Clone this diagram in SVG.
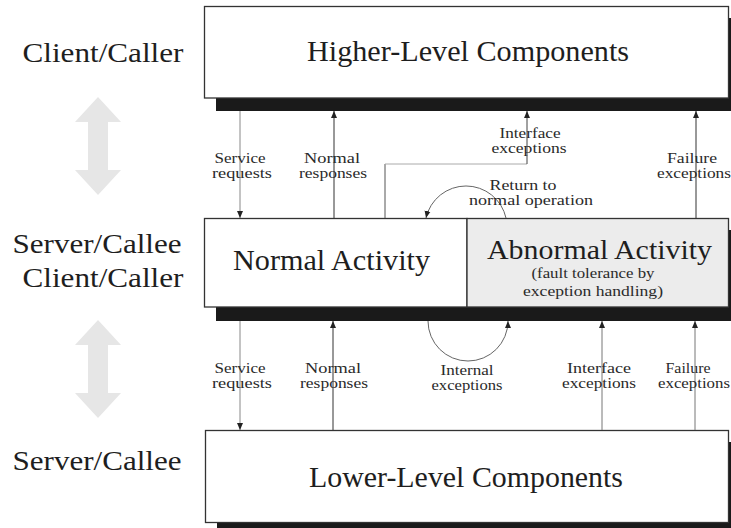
<svg xmlns="http://www.w3.org/2000/svg" width="731" height="528" viewBox="0 0 731 528">
<defs>
<style>
.box{fill:#fff;stroke:#333;stroke-width:1.3}
.abn{fill:#ececec;stroke:#333;stroke-width:1.3}
.shadow{fill:#1a1a1a}
.big{font-family:"Liberation Serif","Times New Roman",serif;font-size:30px;fill:#1e1e1e}
.side{font-family:"Liberation Serif","Times New Roman",serif;font-size:27px;fill:#1e1e1e}
.small{font-family:"Liberation Serif","Times New Roman",serif;font-size:14px;fill:#2a2a2a}
.line{fill:none;stroke:#333;stroke-width:1}
.light{stroke:#888}
.garrow{fill:#e6e6e6}
</style>
<marker id="ah" markerWidth="8" markerHeight="8" refX="7" refY="4" orient="auto" markerUnits="userSpaceOnUse">
<path d="M0,1 L7,4 L0,7 Z" fill="#222"/>
</marker>
</defs>

<g id="side-labels">
<text class="side" x="103" y="62" text-anchor="middle" textLength="161" lengthAdjust="spacingAndGlyphs">Client/Caller</text>
<text class="side" x="97" y="253" text-anchor="middle" textLength="169" lengthAdjust="spacingAndGlyphs">Server/Callee</text>
<text class="side" x="103" y="287" text-anchor="middle" textLength="161" lengthAdjust="spacingAndGlyphs">Client/Caller</text>
<text class="side" x="97" y="470" text-anchor="middle" textLength="169" lengthAdjust="spacingAndGlyphs">Server/Callee</text>
</g>

<g id="role-arrows">
<path class="garrow" d="M98,97 L121,122 L108,122 L108,170 L121,170 L98,195 L75,170 L88,170 L88,122 L75,122 Z"/>
<path class="garrow" d="M98,320 L121,345 L108,345 L108,393 L121,393 L98,418 L75,393 L88,393 L88,345 L75,345 Z"/>
</g>

<g id="higher-level">
<rect class="shadow" x="216" y="18" width="530" height="93"/>
<rect class="box" x="204.5" y="6.5" width="524" height="91.5"/>
<text class="big" x="468" y="61" text-anchor="middle" textLength="322" lengthAdjust="spacingAndGlyphs">Higher-Level Components</text>
</g>

<g id="middle-shadow">
<rect class="shadow" x="216" y="230" width="530" height="91"/>
</g>

<g id="normal-activity">
<rect class="box" x="204.5" y="218.5" width="262.5" height="88.5"/>
<text class="big" x="331.5" y="270" text-anchor="middle" textLength="197" lengthAdjust="spacingAndGlyphs">Normal Activity</text>
</g>

<g id="abnormal-activity">
<rect class="abn" x="467" y="218.5" width="261.5" height="88.5"/>
<text class="big" x="599.5" y="259" text-anchor="middle" textLength="225" lengthAdjust="spacingAndGlyphs" style="font-size:28px">Abnormal Activity</text>
<text class="small" text-anchor="middle"><tspan x="593" y="278" textLength="123" lengthAdjust="spacingAndGlyphs">(fault tolerance by</tspan><tspan x="593" y="296" textLength="140" lengthAdjust="spacingAndGlyphs">exception handling)</tspan></text>
</g>

<g id="lower-level">
<rect class="shadow" x="217" y="442" width="530" height="100"/>
<rect class="box" x="205.5" y="430.5" width="523" height="92"/>
<text class="big" x="466" y="487" text-anchor="middle" textLength="314" lengthAdjust="spacingAndGlyphs">Lower-Level Components</text>
</g>

<g id="connectors">
<line class="line light" x1="240" y1="111" x2="240" y2="218" marker-end="url(#ah)"/>
<line class="line" x1="334" y1="218" x2="334" y2="111" marker-end="url(#ah)"/>
<line class="line" x1="385" y1="218" x2="385" y2="164" style="stroke:#555"/>
<line class="line" x1="385" y1="164" x2="527" y2="164" style="stroke:#aaa"/>
<line class="line" x1="527" y1="164" x2="527" y2="111" marker-end="url(#ah)" style="stroke:#444"/>
<line class="line" x1="696" y1="218" x2="696" y2="111" marker-end="url(#ah)"/>
<path class="line" d="M506,218 A41,41 0 0 0 426,218" marker-end="url(#ah)" style="stroke:#666"/>
<path class="line" d="M428,321 A40,40 0 0 0 508,321" marker-end="url(#ah)" style="stroke:#666"/>
<line class="line light" x1="240" y1="321" x2="240" y2="430" marker-end="url(#ah)"/>
<line class="line" x1="333" y1="430" x2="333" y2="321" marker-end="url(#ah)"/>
<line class="line" x1="602" y1="430" x2="602" y2="321" marker-end="url(#ah)" style="stroke:#777"/>
<line class="line" x1="695" y1="430" x2="695" y2="321" marker-end="url(#ah)" style="stroke:#777"/>
</g>

<g id="connector-labels">
<text class="small" text-anchor="middle"><tspan x="240" y="163" textLength="51" lengthAdjust="spacingAndGlyphs">Service</tspan><tspan x="242" y="178" textLength="60" lengthAdjust="spacingAndGlyphs">requests</tspan></text>
<text class="small" text-anchor="middle"><tspan x="332" y="163" textLength="56" lengthAdjust="spacingAndGlyphs">Normal</tspan><tspan x="333" y="178" textLength="68" lengthAdjust="spacingAndGlyphs">responses</tspan></text>
<text class="small" text-anchor="middle"><tspan x="530" y="138" textLength="61" lengthAdjust="spacingAndGlyphs">Interface</tspan><tspan x="529" y="153" textLength="75" lengthAdjust="spacingAndGlyphs">exceptions</tspan></text>
<text class="small" text-anchor="middle"><tspan x="692" y="163" textLength="50" lengthAdjust="spacingAndGlyphs">Failure</tspan><tspan x="694" y="178" textLength="74" lengthAdjust="spacingAndGlyphs">exceptions</tspan></text>
<text class="small" text-anchor="middle"><tspan x="523" y="190" textLength="67" lengthAdjust="spacingAndGlyphs">Return to</tspan><tspan x="531" y="205" textLength="124" lengthAdjust="spacingAndGlyphs">normal operation</tspan></text>
<text class="small" text-anchor="middle"><tspan x="240" y="373" textLength="51" lengthAdjust="spacingAndGlyphs">Service</tspan><tspan x="242" y="388" textLength="60" lengthAdjust="spacingAndGlyphs">requests</tspan></text>
<text class="small" text-anchor="middle"><tspan x="333" y="373" textLength="56" lengthAdjust="spacingAndGlyphs">Normal</tspan><tspan x="334" y="388" textLength="68" lengthAdjust="spacingAndGlyphs">responses</tspan></text>
<text class="small" text-anchor="middle"><tspan x="467" y="375" textLength="53" lengthAdjust="spacingAndGlyphs">Internal</tspan><tspan x="467" y="390" textLength="71" lengthAdjust="spacingAndGlyphs">exceptions</tspan></text>
<text class="small" text-anchor="middle"><tspan x="599" y="373" textLength="64" lengthAdjust="spacingAndGlyphs">Interface</tspan><tspan x="599" y="388" textLength="74" lengthAdjust="spacingAndGlyphs">exceptions</tspan></text>
<text class="small" text-anchor="middle"><tspan x="688" y="373" textLength="45" lengthAdjust="spacingAndGlyphs">Failure</tspan><tspan x="694" y="388" textLength="72" lengthAdjust="spacingAndGlyphs">exceptions</tspan></text>
</g>
</svg>
